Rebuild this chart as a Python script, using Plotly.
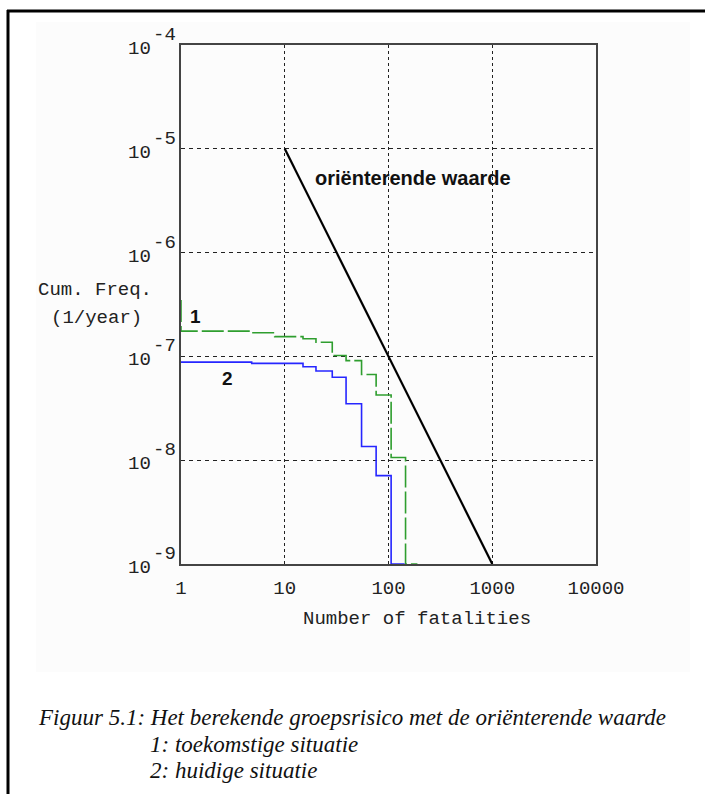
import plotly.graph_objects as go
import math

# ---------------- data ----------------
green_n = [1, 1, 4.8, 8, 15, 20, 28.7, 39, 55, 76, 106, 146, 190]
green_f = [3.5e-7, 1.75e-7, 1.69e-7, 1.55e-7, 1.48e-7, 1.37e-7, 1.02e-7,
           9.1e-8, 6.7e-8, 4.25e-8, 1.06e-8, 1e-9, 1e-9]

blue_n = [1, 4.8, 15, 20, 28.7, 39, 55, 76, 106, 143]
blue_f = [8.8e-8, 8.57e-8, 7.94e-8, 7.24e-8, 6.3e-8, 3.5e-8, 1.355e-8,
          7.1e-9, 1e-9, 1e-9]

norm_n = [10, 1000]
norm_f = [1e-5, 1e-9]

x_ticks = [1, 10, 100, 1000, 10000]
x_ticklabels = ["1", "10", "100", "1000", "10000"]
y_exponents = [-4, -5, -6, -7, -8, -9]

# ---------------- layout geometry ----------------
W, H = 705, 794
L, R, T, B = 181, 596, 45, 564


def px(x):
    return (x - L) / (R - L)


def py(y):
    return (B - y) / (B - T)


MONO = "Liberation Mono, Courier New, monospace"
SANS = "Liberation Sans, Arial, sans-serif"
SERIF = "Liberation Serif, Times New Roman, serif"
MONO_SIZE = 19
CAP_SIZE = 23

fig = go.Figure()

fig.add_trace(go.Scatter(x=green_n, y=green_f, mode="lines", line_shape="hv",
                         line=dict(color="#2f9e2f", width=1.6, dash="22px,4px"),
                         showlegend=False, hoverinfo="skip"))
fig.add_trace(go.Scatter(x=blue_n, y=blue_f, mode="lines", line_shape="hv",
                         line=dict(color="#2626ff", width=1.6),
                         showlegend=False, hoverinfo="skip"))
fig.add_trace(go.Scatter(x=norm_n, y=norm_f, mode="lines",
                         line=dict(color="#000000", width=2.2),
                         showlegend=False, hoverinfo="skip"))

annotations = []
# y tick labels: "10" with raised exponent
for e in y_exponents:
    annotations.append(dict(x=px(153), y=e, xref="paper", yref="y", text="10",
                            showarrow=False, xanchor="right", yanchor="middle",
                            yshift=-4, font=dict(family=MONO, size=MONO_SIZE, color="#222")))
    annotations.append(dict(x=px(151), y=e, xref="paper", yref="y", text=str(e),
                            showarrow=False, xanchor="left", yanchor="middle",
                            yshift=10, font=dict(family=MONO, size=MONO_SIZE, color="#222")))

annotations += [
    dict(x=px(95), y=py(290), xref="paper", yref="paper", text="Cum. Freq.",
         xanchor="center", yanchor="middle",
         showarrow=False, font=dict(family=MONO, size=MONO_SIZE, color="#222")),
    dict(x=px(96), y=py(318), xref="paper", yref="paper", text="(1/year)",
         xanchor="center", yanchor="middle",
         showarrow=False, font=dict(family=MONO, size=MONO_SIZE, color="#222")),
    dict(x=px(417), y=py(619), xref="paper", yref="paper", text="Number of fatalities",
         xanchor="center", yanchor="middle",
         showarrow=False, font=dict(family=MONO, size=MONO_SIZE, color="#222")),
    dict(x=math.log10(174), y=math.log10(5.26e-6), xref="x", yref="y",
         xanchor="center", yanchor="middle",
         text="<b>oriënterende waarde</b>", showarrow=False,
         font=dict(family=SANS, size=20, color="#111")),
    dict(x=math.log10(1.39), y=math.log10(2.43e-7), xref="x", yref="y",
         xanchor="center", yanchor="middle",
         text="<b>1</b>", showarrow=False, font=dict(family=SANS, size=19, color="#111")),
    dict(x=math.log10(2.83), y=math.log10(6.1e-8), xref="x", yref="y",
         xanchor="center", yanchor="middle",
         text="<b>2</b>", showarrow=False, font=dict(family=SANS, size=19, color="#111")),
    dict(x=px(36), y=py(717), xref="paper", yref="paper", xanchor="left", yanchor="middle",
         text="<i>Figuur 5.1: Het berekende groepsrisico met de oriënterende waarde</i>",
         showarrow=False, font=dict(family=SERIF, size=CAP_SIZE, color="#111")),
    dict(x=px(148), y=py(744), xref="paper", yref="paper", xanchor="left", yanchor="middle",
         text="<i>1: toekomstige situatie</i>",
         showarrow=False, font=dict(family=SERIF, size=CAP_SIZE, color="#111")),
    dict(x=px(148), y=py(770), xref="paper", yref="paper", xanchor="left", yanchor="middle",
         text="<i>2: huidige situatie</i>",
         showarrow=False, font=dict(family=SERIF, size=CAP_SIZE, color="#111")),
]

shapes = [
    # faint grey background panel
    dict(type="rect", xref="paper", yref="paper", layer="below",
         x0=px(36), x1=px(690), y0=py(672), y1=py(22),
         fillcolor="#fcfcfc", line=dict(width=0)),
    # page frame lines
    dict(type="line", xref="paper", yref="paper", x0=px(7), x1=px(706),
         y0=py(11), y1=py(11), line=dict(color="#000", width=3)),
    dict(type="line", xref="paper", yref="paper", x0=px(8), x1=px(8),
         y0=py(10), y1=py(800), line=dict(color="#000", width=3)),
]

fig.update_layout(
    width=W, height=H,
    margin=dict(l=L, r=W - R, t=T, b=H - B),
    paper_bgcolor="white", plot_bgcolor="rgba(0,0,0,0)",
    annotations=annotations, shapes=shapes,
    xaxis=dict(type="log", range=[0, 4], tickvals=x_ticks, ticktext=x_ticklabels,
               showgrid=True, gridcolor="#222", gridwidth=1.3, griddash="3px,3px",
               showline=True, mirror=True, linecolor="#444", linewidth=2,
               ticks="outside", ticklen=5, tickcolor="rgba(0,0,0,0)",
               tickfont=dict(family=MONO, size=MONO_SIZE, color="#222"), zeroline=False),
    yaxis=dict(type="log", range=[-9, -4], tickvals=[10.0 ** e for e in y_exponents],
               showticklabels=False,
               showgrid=True, gridcolor="#222", gridwidth=1.3, griddash="4px,4px",
               showline=True, mirror=True, linecolor="#444", linewidth=2,
               ticks="", zeroline=False),
)

fig.write_html("out.html", config={"displayModeBar": False},
               post_script="document.body.style.margin='0px';document.body.style.overflow='hidden';")
